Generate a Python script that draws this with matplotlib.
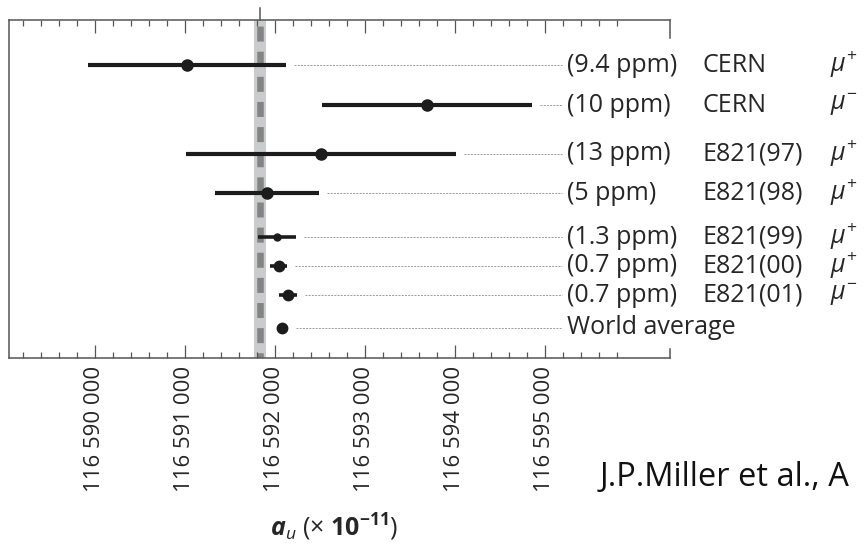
import matplotlib
matplotlib.use("Agg")
import matplotlib.pyplot as plt
from matplotlib import transforms
from matplotlib.ticker import FixedLocator, FuncFormatter

plt.rcParams['font.family'] = ['Open Sans', 'DejaVu Sans']
plt.rcParams['mathtext.fontset'] = 'custom'
plt.rcParams['mathtext.rm'] = 'Open Sans'
plt.rcParams['mathtext.it'] = 'Open Sans:italic'
plt.rcParams['mathtext.bf'] = 'Open Sans:bold'
plt.rcParams['mathtext.bfit'] = 'Open Sans:bold:italic'

# measurements of a_mu, in units of 1e-11
precision = ['(9.4 ppm)', '(10 ppm)', '(13 ppm)', '(5 ppm)',
             '(1.3 ppm)', '(0.7 ppm)', '(0.7 ppm)', 'World average']
experiments = ['CERN', 'CERN', 'E821(97)', 'E821(98)',
               'E821(99)', 'E821(00)', 'E821(01)', '']
charge = ['+', '-', '+', '+', '+', '+', '-', '']
a_mu = [116591020, 116593690, 116592510, 116591910,
        116592020, 116592040, 116592140, 116592080]
a_mu_err = [1100, 1170, 1500, 580, 210, 90, 100, 60]

# standard model band
sm_value = 116591834
sm_err = 67

# x axis ticks
major_ticks = [116590000, 116591000, 116592000, 116593000, 116594000, 116595000]
minor_ticks = [116589200, 116589400, 116589600, 116589800,
               116590200, 116590400, 116590600, 116590800,
               116591200, 116591400, 116591600, 116591800,
               116592200, 116592400, 116592600, 116592800,
               116593200, 116593400, 116593600, 116593800,
               116594200, 116594400, 116594600, 116594800,
               116595200, 116595400, 116595600, 116595800]

# layout
row_y = [65, 105, 154, 193, 237, 266, 295, 328]   # vertical slot of each row
marker_sizes = [8, 8, 8, 8, 5, 7.5, 7.5, 7.5]
DARK = '#1c1c1c'
AXIS_C = '#555555'
TEXT_C = '#262626'


def fmt_tick(v, pos):
    return f"{int(round(v)):,}".replace(",", " ")


def draw():
    fig = plt.figure(figsize=(8.65, 5.45), dpi=100)
    ax = fig.add_axes([9 / 865, 1 - 358 / 545, 661 / 865, 338 / 545])
    ax.set_xlim(116589044, 116596392)
    ax.set_ylim(358, 20)

    # SM band and dashed centre line
    ax.axvspan(sm_value - sm_err, sm_value + sm_err, color='#c9cccc', lw=0, zorder=0)
    ax.axvline(sm_value, color='#848484', lw=4.7, ls=(1.5, (2.3, 1.55)), zorder=1)

    x0, x1 = ax.get_xlim()
    leader_end = x0 + 0.8366 * (x1 - x0)
    trans = transforms.blended_transform_factory(ax.transAxes, ax.transData)

    for i in range(len(a_mu)):
        ax.errorbar(a_mu[i], row_y[i], xerr=a_mu_err[i], fmt='o', color=DARK,
                    ms=marker_sizes[i], elinewidth=3 if i < 4 else 2.6,
                    capsize=0, zorder=3)
        # dotted leader from the point to its label
        start = a_mu[i] + max(a_mu_err[i], 60) + 90
        ax.plot([start, leader_end], [row_y[i], row_y[i]], color='#9a9a9a',
                lw=0.7, ls=(0, (2, 1.3)), zorder=2)
        ax.text(0.8442, row_y[i], precision[i], transform=trans, fontsize=18,
                color=TEXT_C, va='center', ha='left', clip_on=False)
        if experiments[i]:
            ax.text(1.0499, row_y[i], experiments[i], transform=trans, fontsize=18,
                    color=TEXT_C, va='center', ha='left', clip_on=False)
        if charge[i]:
            ax.text(1.242, row_y[i], r'$\mu^{%s}$' % charge[i], transform=trans,
                    fontsize=18, color=TEXT_C, va='center', ha='left',
                    clip_on=False)

    # axes frame: left, top, bottom, short stubs on the right
    for side in ['left', 'top', 'bottom']:
        ax.spines[side].set_color(AXIS_C)
        ax.spines[side].set_linewidth(1.1)
    ax.spines['right'].set_visible(False)
    ax.plot([1, 1], [1, 1 - 18 / 338], transform=ax.transAxes, color=AXIS_C,
            lw=1.1, clip_on=False)
    ax.plot([1, 1], [0, 9 / 338], transform=ax.transAxes, color=AXIS_C,
            lw=1.1, clip_on=False)
    # small mark above the frame at the SM value
    top_trans = transforms.blended_transform_factory(ax.transData, ax.transAxes)
    ax.plot([sm_value, sm_value], [1, 1 + 12 / 338], transform=top_trans,
            color=AXIS_C, lw=1.1, clip_on=False)

    ax.xaxis.set_major_locator(FixedLocator(major_ticks))
    ax.xaxis.set_minor_locator(FixedLocator(minor_ticks))
    ax.xaxis.set_major_formatter(FuncFormatter(fmt_tick))
    ax.tick_params(axis='x', which='both', direction='in', top=True, bottom=True,
                   color=AXIS_C, width=0.9)
    ax.tick_params(axis='x', which='major', length=9.5, pad=6, labelsize=16,
                   labelrotation=90, labelcolor=TEXT_C)
    ax.tick_params(axis='x', which='minor', length=4.5)
    ax.set_yticks([])

    fig.text(270 / 865, 1 - 527 / 545, r'$\mathbfit{a}_{\mathit{u}}$ (× $\mathbf{10^{-11}}$)',
             fontsize=18, color=TEXT_C, va='center', ha='left')
    fig.text(600 / 865, 1 - 478 / 545, 'J.P.Miller et al., A',
             fontsize=23.5, color='#111111', va='center', ha='left')

    fig.savefig('out.png', dpi=100)


draw()
